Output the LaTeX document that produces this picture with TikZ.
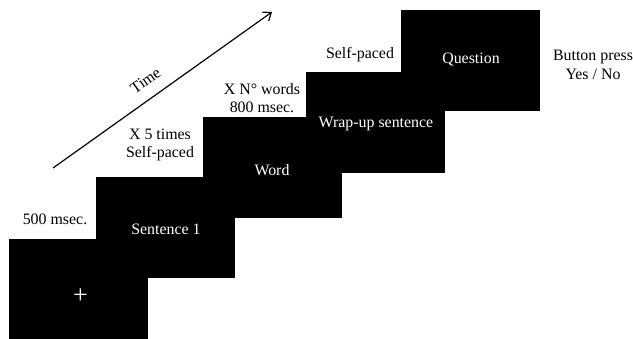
\documentclass[tikz,border=0pt]{standalone}
\usepackage{fontspec}
\setmainfont{Liberation Serif}
\usetikzlibrary{arrows.meta}
\begin{document}
\begin{tikzpicture}[x=1pt,y=-1pt,
  screen/.style={fill=black,draw=none,minimum width=139pt,minimum height=101pt,inner sep=0pt,anchor=north west},
  intext/.style={text=white,font=\fontsize{15.9}{18.5}\selectfont,inner sep=0pt},
  lbl/.style={font=\fontsize{15.9}{18.5}\selectfont,align=center,inner sep=0pt}]
\useasboundingbox (0,0) rectangle (633,338);
\begin{scope}
\clip (0,0) rectangle (633,338);
\node[screen] (s1) at (9,239) {};
\end{scope}
\node[screen] (s2) at (96,177) {};
\node[screen] (s3) at (203,117) {};
\node[screen] (s4) at (306,72) {};
\node[screen] (s5) at (401,10) {};
\node[intext,font=\fontsize{26}{28}\selectfont] (t1) at (80.5,296.5) {+};
\node[intext] (t2) at (166,229) {Sentence 1};
\node[intext] (t3) at (272,170) {Word};
\node[intext] (t4) at (376,124) {Wrap-up sentence};
\node[intext] (t5) at (471,60) {Question};
\node[lbl] (l1) at (55,219) {500 msec.};
\node[lbl] (l2) at (160,145) {X 5 times\\Self-paced};
\node[lbl] (l3) at (262,98) {X N° words\\800 msec.};
\node[lbl] (l4) at (360,55) {Self-paced};
\node[lbl] (l5) at (593,65) {Button press\\Yes / No};
\coordinate (a0) at (53,168);
\coordinate (a1) at (272,12);
\draw[line width=1.2pt,-{Straight Barb[length=7pt,width=11pt]}] (a0) -- (a1);
\node[lbl,rotate=35.5] (time) at (145.5,80.5) {Time};
\end{tikzpicture}
\end{document}
